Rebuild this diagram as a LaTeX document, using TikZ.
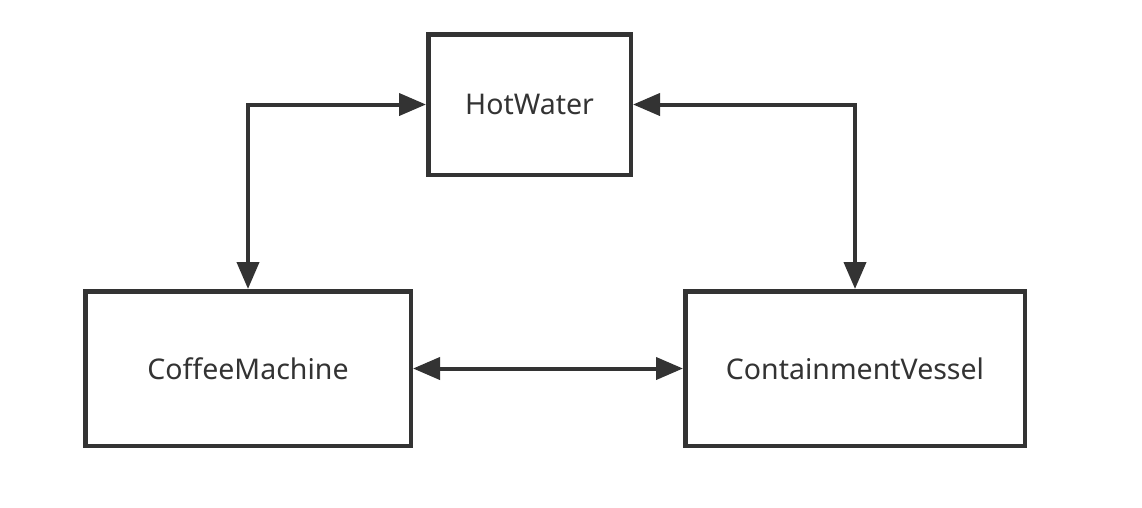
\documentclass[tikz,border=0pt]{standalone}
\usepackage{fontspec}
\setmainfont{Noto Sans}
\usetikzlibrary{arrows.meta}
\definecolor{darkline}{HTML}{333333}

\begin{document}
\begin{tikzpicture}[x=1pt, y=-1pt,
		box/.style={draw=darkline, line width=4.5pt, text=darkline, inner sep=0pt, font=\fontsize{28.5}{34}\selectfont},
		link/.style={draw=darkline, line width=4pt, {Triangle[length=27pt,width=22pt]}-{Triangle[length=27pt,width=22pt]}}]
			%%%%% START %%%%%
			\useasboundingbox (0, 0) rectangle (1142, 507);
			
			\node[box, minimum width=202.5pt, minimum height=140.5pt] (hotwater) at (529.5, 104.5) {HotWater};
			\node[box, minimum width=325.5pt, minimum height=154.5pt] (coffee) at (248, 368.5) {CoffeeMachine};
			\node[box, minimum width=339.5pt, minimum height=154.5pt] (vessel) at (855, 368.5) {ContainmentVessel};
			
			\draw[link] (hotwater.west) -| (coffee.north);
			\draw[link] (hotwater.east) -| (vessel.north);
			\draw[link] (coffee.east) -- (vessel.west);
			
			%%%%% END %%%%%
\end{tikzpicture}
\end{document}
